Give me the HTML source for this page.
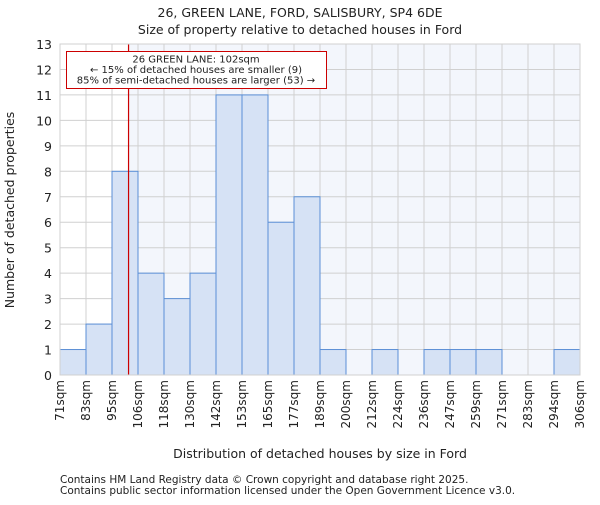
<!DOCTYPE html>
<html><head><meta charset="utf-8"><style>body{margin:0;background:#fff}svg text{font-family:"DejaVu Sans","Liberation Sans",sans-serif;fill:#222}</style></head>
<body>
<svg id="chart" width="600" height="500" xmlns="http://www.w3.org/2000/svg">
<text x="300" y="17" font-size="12.5" text-anchor="middle">26, GREEN LANE, FORD, SALISBURY, SP4 6DE</text>
<text x="300" y="34" font-size="12.5" text-anchor="middle">Size of property relative to detached houses in Ford</text>
<g id="plot"></g>
<text x="320" y="458" font-size="12.5" text-anchor="middle">Distribution of detached houses by size in Ford</text>
<text x="14" y="210" font-size="12.5" text-anchor="middle" transform="rotate(-90 14 210)">Number of detached properties</text>
<text x="60" y="483" font-size="10.5">Contains HM Land Registry data © Crown copyright and database right 2025.</text>
<text x="60" y="494" font-size="10.5">Contains public sector information licensed under the Open Government Licence v3.0.</text>
</svg>
<script>
const categories=["71sqm","83sqm","95sqm","106sqm","118sqm","130sqm","142sqm","153sqm","165sqm","177sqm","189sqm","200sqm","212sqm","224sqm","236sqm","247sqm","259sqm","271sqm","283sqm","294sqm","306sqm"];
const counts=[1,2,8,4,3,4,11,11,6,7,1,0,1,0,1,1,1,0,0,1];
const yTicks=[0,1,2,3,4,5,6,7,8,9,10,11,12,13];
const binEdges=[71,83,95,106,118,130,142,153,165,177,189,200,212,224,236,247,259,271,283,294,306];
const propertySize=102;
const X0=60,X1=580,Y0=375,Y1=44,YMAX=13;
const ns="http://www.w3.org/2000/svg";
const g=document.getElementById('plot');
const bw=(X1-X0)/counts.length;
function xi(i){return X0+i*bw;}
function xv(v){let i=0;while(i<binEdges.length-2&&v>binEdges[i+1])i++;return xi(i)+bw*(v-binEdges[i])/(binEdges[i+1]-binEdges[i]);}
function y(v){return Y0-(Y0-Y1)*v/YMAX;}
function mk(t,a){const e=document.createElementNS(ns,t);for(const k in a)e.setAttribute(k,a[k]);g.appendChild(e);return e;}
const px=xv(propertySize);
let e=mk('rect',{x:px,y:Y1,width:X1-px,height:Y0-Y1,fill:'#f3f6fc'});


yTicks.forEach(t=>{
 let l=mk('line',{x1:X0,x2:X1,y1:y(t),y2:y(t),stroke:'#d0d0d0','stroke-width':1});
 
 
 let tx=mk('text',{x:X0-8,y:y(t)+5,'font-size':12.5,'text-anchor':'end'});tx.textContent=t;
 
 
});
categories.forEach((c,i)=>{
 let l=mk('line',{x1:xi(i),x2:xi(i),y1:Y1,y2:Y0,stroke:'#d0d0d0','stroke-width':1});
 
 
 let xx=xi(i)+4;
 let tx=mk('text',{x:xx,y:380,'font-size':12,'text-anchor':'end',transform:`rotate(-90 ${xx} 380)`});tx.textContent=c;
 
 
});
counts.forEach((v,i)=>{
 if(v<=0)return;
 let r=mk('rect',{x:xi(i),y:y(v),width:bw,height:Y0-y(v),fill:'#d6e2f5',stroke:'#5b8fd6','stroke-width':1});
 
 
});
let rl=mk('line',{x1:px,x2:px,y1:Y1,y2:Y0,stroke:'#cc0000','stroke-width':1.2});


let box=mk('rect',{x:66.5,y:51.5,width:260,height:37,fill:'#fff',stroke:'#cc0000','stroke-width':1});


["26 GREEN LANE: 102sqm","← 15% of detached houses are smaller (9)","85% of semi-detached houses are larger (53) →"].forEach((s,k)=>{
 let t=mk('text',{x:196,y:62.5+k*10.5,'font-size':10,'text-anchor':'middle'});t.textContent=s;
 
 
});
let ax=mk('rect',{x:X0,y:Y1,width:X1-X0,height:Y0-Y1,fill:'none',stroke:'#d0d0d0'});


</script>
</body></html>
